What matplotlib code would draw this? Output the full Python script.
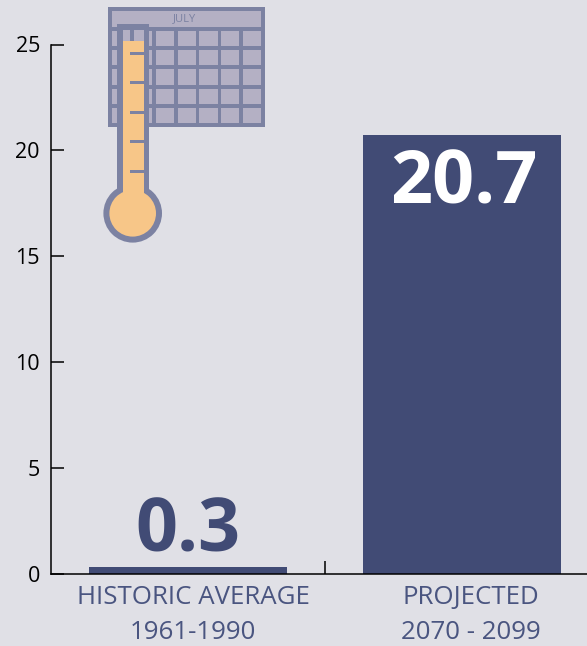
import matplotlib
matplotlib.use('Agg')
import matplotlib.pyplot as plt
from matplotlib.patches import Rectangle, Circle
from matplotlib.transforms import ScaledTranslation

categories = ['HISTORIC AVERAGE\n1961-1990', 'PROJECTED\n2070 - 2099']
values = [0.3, 20.7]
value_labels = ['0.3', '20.7']
y_ticks = [0, 5, 10, 15, 20, 25]

BG = '#e0e0e6'
BAR = '#414b75'
LINE = '#7c82a2'
CELL = '#b4b0c4'
ORANGE = '#f7c688'

W, H = 587, 646
plt.rcParams['font.family'] = ['Open Sans', 'DejaVu Sans']

fig = plt.figure(figsize=(W / 100, H / 100), dpi=100, facecolor=BG)
ax = fig.add_axes([51 / W, (H - 573.5) / H, (W - 51) / W, 529 / H], facecolor=BG)

xs = list(range(len(values)))
ax.bar(xs, values, width=0.72, color=BAR)
ax.set_xlim(-0.5, 1.456)
ax.set_ylim(0, 25)

ax.text(xs[0], values[0] + 0.72, value_labels[0], color=BAR, fontsize=53,
        fontweight='bold', ha='center', va='baseline')
ax.text(xs[1] + 0.007, values[1] - 3.22, value_labels[1], color='white', fontsize=53,
        fontweight='bold', ha='center', va='baseline')

ax.spines['top'].set_visible(False)
ax.spines['right'].set_visible(False)
ax.spines['left'].set_linewidth(1.1)
ax.spines['bottom'].set_linewidth(1.1)

ax.set_yticks(y_ticks)
ax.tick_params(axis='y', direction='in', length=9.5, width=1.1, labelsize=15.5, pad=8)
ax.set_xticks(xs)
ax.set_xticklabels(categories, fontsize=18.6, color='#4a5580', linespacing=1.5)
ax.tick_params(axis='x', length=0, pad=8.5)
ax.set_xticks([0.5], minor=True)
ax.tick_params(axis='x', which='minor', direction='in', length=9.5, width=1.1)

# the labels sit a little right of the bar centres in the original
for label, shift in zip(ax.get_xticklabels(), [5, 8.5]):
    label.set_transform(label.get_transform() + ScaledTranslation(shift / 100, 0, fig.dpi_scale_trans))

# icon, drawn in image pixels
icon = fig.add_axes([0, 0, 1, 1], facecolor='none')
icon.set_xlim(0, W)
icon.set_ylim(H, 0)
icon.axis('off')

icon.add_patch(Rectangle((108.3, 6.7), 156.7, 120.6, fc=LINE, ec='none'))
icon.add_patch(Rectangle((112.3, 10.7), 148.7, 16, fc=CELL, ec='none'))
icon.text(185, 18.5, 'JULY', fontsize=8, color=LINE, ha='center', va='center')
for cx in [112.3, 134, 155.7, 177.7, 199.3, 221, 243]:
    for cy in [31, 50, 69.3, 88.7, 108]:
        icon.add_patch(Rectangle((cx, cy), 18.2, 15.3, fc=CELL, ec='none'))

icon.add_patch(Circle((132.7, 213.3), 29.3, fc=LINE, ec='none'))
icon.add_patch(Rectangle((117.3, 24), 32, 175, fc=LINE, ec='none'))
# open top of the tube shows the calendar behind it
icon.add_patch(Rectangle((123.3, 30), 20.4, 11, fc=CELL, ec='none'))
icon.add_patch(Rectangle((130, 30), 4.3, 11, fc=LINE, ec='none'))
icon.add_patch(Rectangle((123.3, 40.7), 20.4, 160, fc=ORANGE, ec='none'))
icon.add_patch(Circle((132.7, 213.3), 23.3, fc=ORANGE, ec='none'))
for ty in [53, 82.3, 112, 141.3, 171]:
    icon.add_patch(Rectangle((130, ty - 1.5), 13.7, 3, fc=LINE, ec='none'))

fig.savefig('out.png', dpi=100, facecolor=BG)
